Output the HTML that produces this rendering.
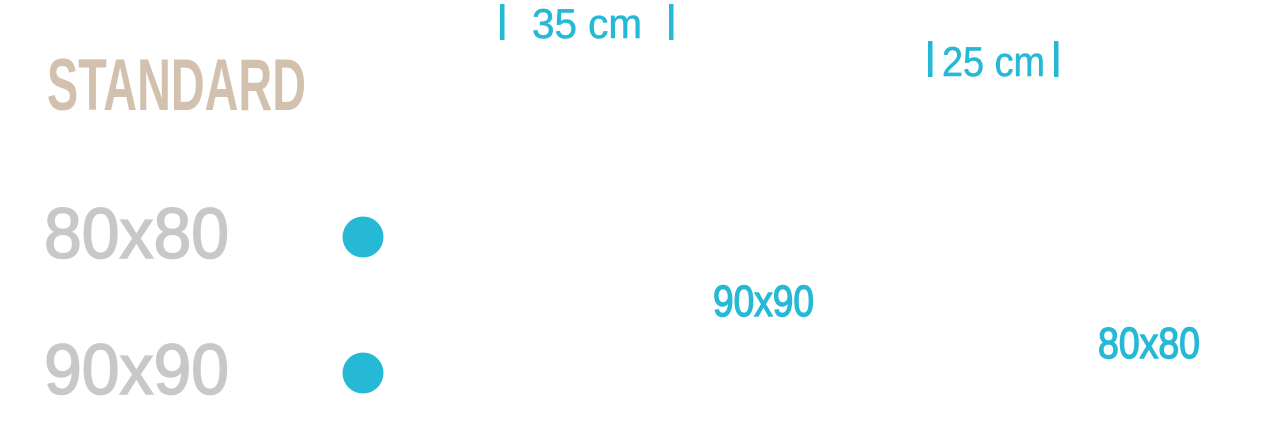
<!DOCTYPE html>
<html><head><meta charset="utf-8"><style>
html,body{margin:0;padding:0;background:#fff;width:1268px;height:438px;overflow:hidden}
svg text{font-family:"Liberation Sans",sans-serif}
</style></head><body>
<svg width="1268" height="438" viewBox="0 0 1268 438" xmlns="http://www.w3.org/2000/svg">
<text x="47" y="110" font-size="73" font-weight="bold" fill="#d2c1ae" textLength="259" lengthAdjust="spacingAndGlyphs">STANDARD</text>
<text x="44" y="258" font-size="71" fill="#c8c8c8" stroke="#c8c8c8" stroke-width="1.6" textLength="185" lengthAdjust="spacingAndGlyphs">80x80</text>
<text x="44" y="394" font-size="71" fill="#c8c8c8" stroke="#c8c8c8" stroke-width="1.6" textLength="185" lengthAdjust="spacingAndGlyphs">90x90</text>
<circle cx="363" cy="237" r="20.5" fill="#25b9d6"/>
<circle cx="363" cy="373" r="20.5" fill="#25b9d6"/>
<rect x="500" y="4" width="4.5" height="36" fill="#25b9d6"/>
<rect x="669" y="4" width="4.5" height="36" fill="#25b9d6"/>
<text x="532" y="38" font-size="42" fill="#25b9d6" stroke="#25b9d6" stroke-width="0.6" textLength="110" lengthAdjust="spacingAndGlyphs">35 cm</text>
<rect x="928" y="41" width="4.5" height="36" fill="#25b9d6"/>
<rect x="1054" y="41" width="4.5" height="36" fill="#25b9d6"/>
<text x="942" y="76" font-size="42" fill="#25b9d6" stroke="#25b9d6" stroke-width="0.6" textLength="103" lengthAdjust="spacingAndGlyphs">25 cm</text>
<text x="713" y="316" font-size="44" fill="#25b9d6" stroke="#25b9d6" stroke-width="1.4" textLength="101" lengthAdjust="spacingAndGlyphs">90x90</text>
<text x="1098" y="358" font-size="44" fill="#25b9d6" stroke="#25b9d6" stroke-width="1.4" textLength="102" lengthAdjust="spacingAndGlyphs">80x80</text>
</svg>
</body></html>
